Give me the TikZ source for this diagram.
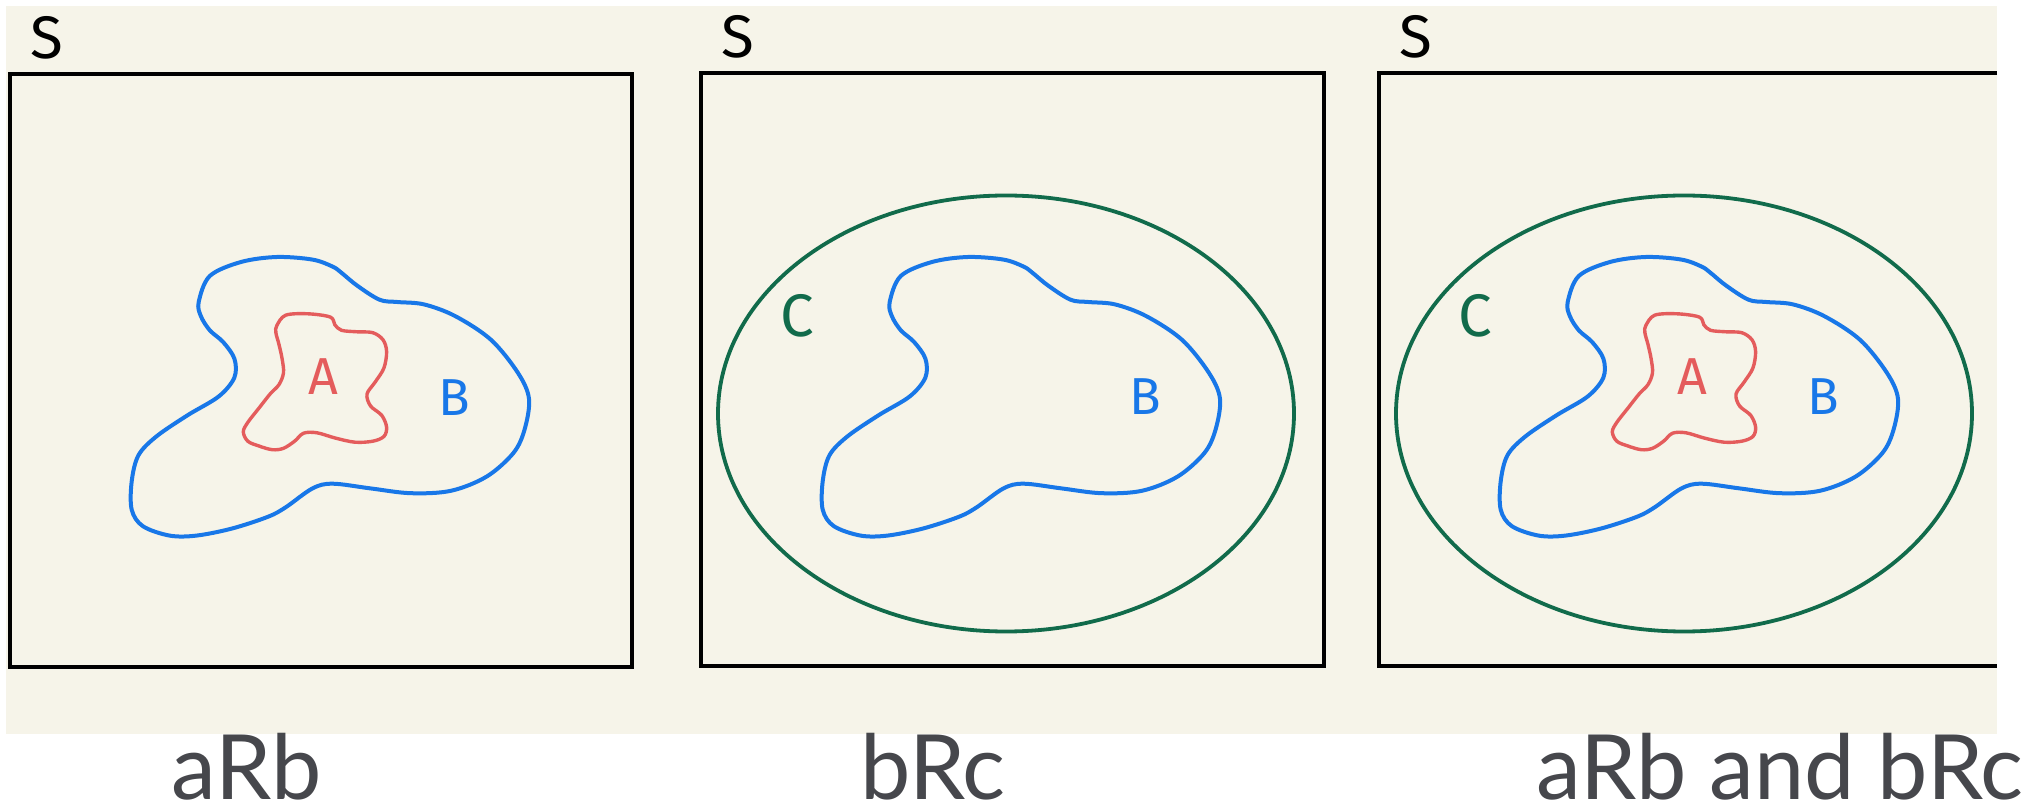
\documentclass[tikz,border=0pt]{standalone}
\usepackage{fontspec}
\newfontfamily\capfont{Lato}
\newfontfamily\handfont{Fira Sans}
\definecolor{cream}{RGB}{246,244,233}
\definecolor{blobblue}{RGB}{24,119,232}
\definecolor{blobred}{RGB}{228,92,92}
\definecolor{blobgreen}{RGB}{17,107,75}
\definecolor{capgray}{RGB}{70,71,76}
\tikzset{
  frame/.style={draw=black, line width=2pt},
  blueline/.style={draw=blobblue, line width=2pt, line join=round},
  redline/.style={draw=blobred, line width=1.7pt, line join=round},
  greenline/.style={draw=blobgreen, line width=1.9pt},
  caption/.style={text=capgray, inner sep=0pt, anchor=base, text depth=0pt, font=\capfont\fontsize{45}{48}\selectfont},
  hand/.style={inner sep=0pt, font=\handfont\fontsize{26}{28}\selectfont},
}
\begin{document}
\begin{tikzpicture}[x=0.5pt,y=-0.5pt]
\useasboundingbox (0,0) rectangle (2036,812);
\fill[cream] (6,6) rectangle (1997,734);
% frames
\draw[frame] (10,74) rectangle (632,667);
\draw[frame] (701,73) rectangle (1324,666);
\draw[frame] (1997,73) -- (1379,73) -- (1379,666) -- (1997,666);
% S labels
\node[hand, font=\handfont\fontsize{30}{32}\selectfont] (s1) at (47,38) {S};
\node[hand, font=\handfont\fontsize{30}{32}\selectfont] (s2) at (738,37) {S};
\node[hand, font=\handfont\fontsize{30}{32}\selectfont] (s3) at (1416,37) {S};
% green ellipses
\draw[greenline] (1006,413.5) ellipse [x radius=288, y radius=218];
\draw[greenline] (1684,413.5) ellipse [x radius=288, y radius=218];
% blue blobs
\foreach \dx in {0,691,1369}{
\draw[blueline, shift={(\dx,0)}] plot[smooth cycle, tension=0.55] coordinates {
(198.7,302) (209.8,276) (241,262) (276.8,257) (312.5,259.6) (332.6,266.6) (341.5,272.8)
(357,285.5) (379.5,299.7) (397.3,302) (424,304.4) (455.4,316.2) (491,339.8) (517.9,372.8)
(529,398.8) (524.6,429.5) (513.4,453) (486.6,476.6) (450.9,490.8) (410.7,493.2) (370.5,488.4)
(332.6,483.7) (312.5,488.4) (285.7,507.3) (267.9,516.8) (232.1,528.5) (196.4,535.6) (169.6,535.6)
(142.9,526.2) (131.7,509.7) (131.7,481.4) (138.4,455.4) (156.3,436.5) (187.5,415.3) (218.8,396.4)
(234.4,377.5) (234.4,358.7) (223.2,342.1) (209.8,330.3) (200.9,316.2)};
}
% red blobs
\foreach \dx in {0,1369}{
\draw[redline, shift={(\dx,0)}] plot[smooth cycle, tension=0.55] coordinates {
(276.8,325.6) (285.7,315.2) (308,313.8) (330.4,317.1) (334.8,324.7) (341.5,330.3) (357.1,331.8)
(372.8,332.7) (383,339.8) (386.6,351.6) (383.9,368.1) (375,382.3) (367,394.1) (370.5,405.9)
(381.7,415.3) (386.6,427.1) (383.9,436.5) (372.8,441.2) (354.9,442.2) (334.8,437.9) (317,432.8)
(303.6,433.2) (294.6,441.2) (283.5,448.3) (272.3,449.7) (258.9,446) (247.8,441.2) (243.3,431.8)
(247.8,422.4) (258.9,408.2) (270.1,394) (279,384.6) (283.5,372.8) (282.1,358.7) (279,344.5)
(275.9,332.7)};
}
% letters
\node[hand, text=blobred] (a1) at (323,377) {A};
\node[hand, text=blobred] (a3) at (1692,377) {A};
\node[hand, text=blobblue] (b1) at (454,398) {B};
\node[hand, text=blobblue] (b2) at (1145,397) {B};
\node[hand, text=blobblue] (b3) at (1823,397) {B};
\node[hand, text=blobgreen, font=\handfont\fontsize{30}{32}\selectfont] (c2) at (797,316) {C};
\node[hand, text=blobgreen, font=\handfont\fontsize{30}{32}\selectfont] (c3) at (1475,316) {C};
% captions
\node[caption] (cap1) at (247,799) {aRb};
\node[caption] (cap2) at (933,799) {bRc};
\node[caption] (cap3) at (1780,799) {aRb and bRc};
\end{tikzpicture}
\end{document}
